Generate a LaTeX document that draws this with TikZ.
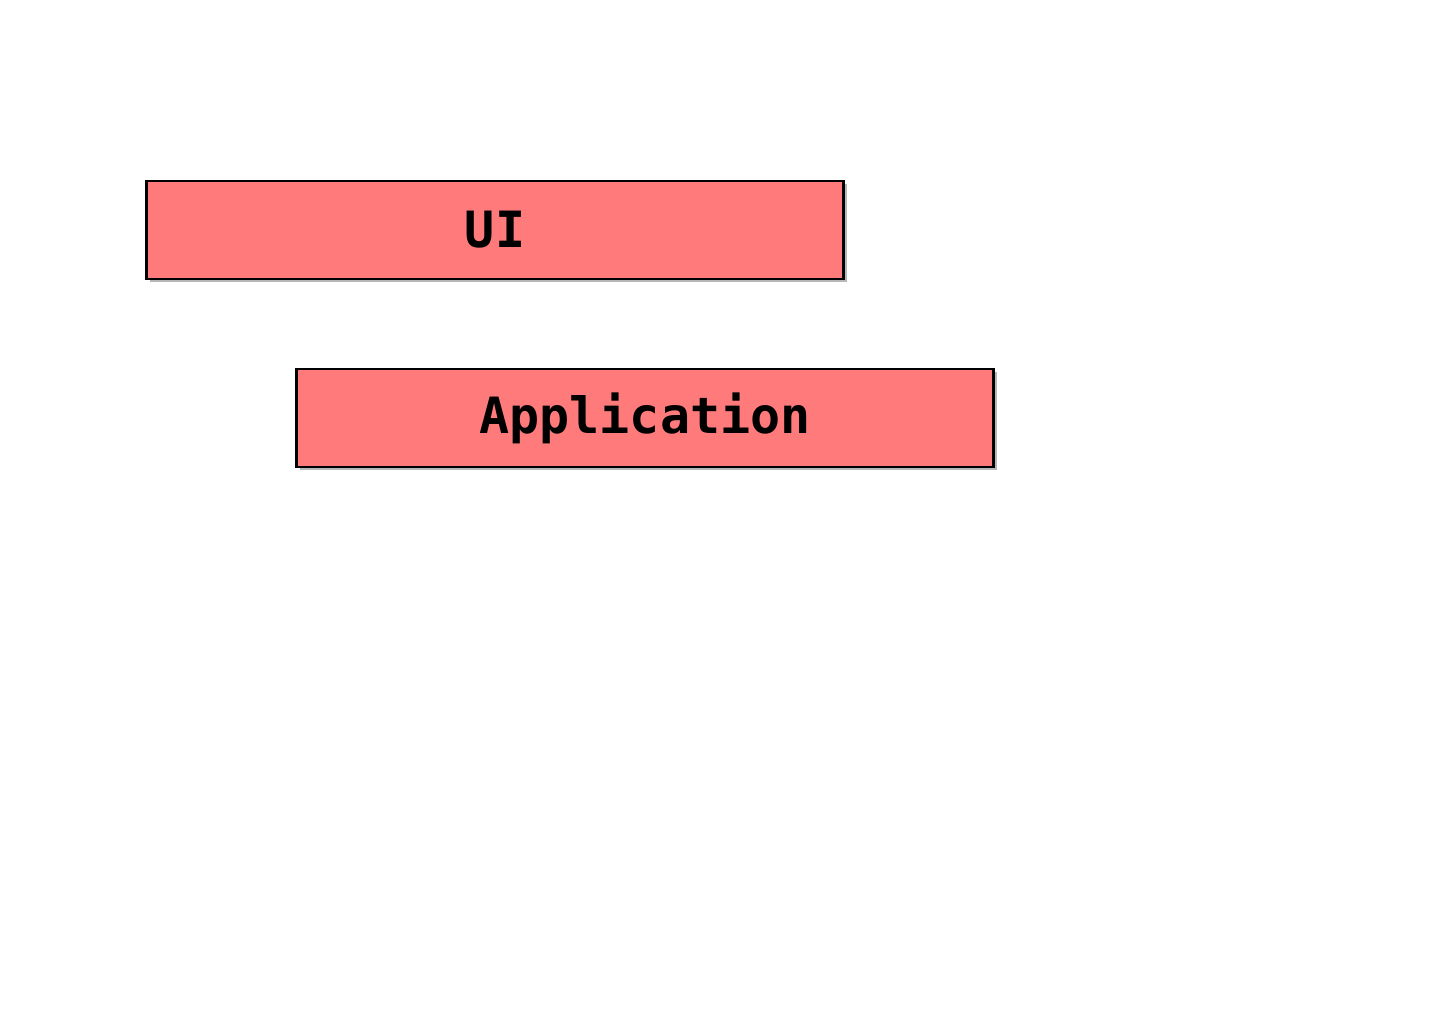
\documentclass[tikz,border=0pt]{standalone}
\usepackage{fontspec}
\setmonofont{DejaVu Sans Mono}
\usetikzlibrary{shadows}
\definecolor{boxred}{RGB}{255,123,123}
\tikzset{
  layerbox/.style={draw=black, line width=2.8pt, fill=boxred, minimum width=697pt, minimum height=98pt, inner sep=0pt,
    drop shadow={shadow xshift=3pt, shadow yshift=-3pt, fill=black!35, opacity=0.8},
    font=\fontsize{50}{56}\selectfont\ttfamily\bfseries}
}
\begin{document}
\begin{tikzpicture}[x=1pt,y=-1pt]
\useasboundingbox[fill=white] (0,0) rectangle (1440,1024);
\node[layerbox] (ui) at (495,230) {\raisebox{-2pt}{UI}};
\node[layerbox] (app) at (645,418) {\raisebox{-3pt}{Application}};
\end{tikzpicture}
\end{document}
